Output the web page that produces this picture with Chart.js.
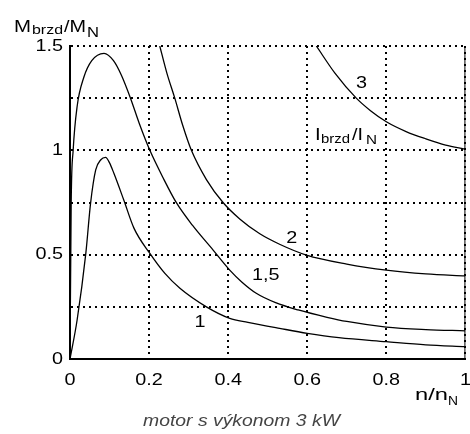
<!DOCTYPE html>
<html>
<head>
<meta charset="utf-8">
<script src="https://cdn.jsdelivr.net/npm/chart.js@4/dist/chart.umd.min.js"></script>
<style>
  html, body { margin: 0; padding: 0; background: #fff; }
  #wrap { width: 470px; height: 434px; position: relative; }
</style>
</head>
<body>
<div id="wrap"><canvas id="c" width="470" height="434"></canvas></div>
<script>
// Tick values
const xTickValues = [0, 0.2, 0.4, 0.6, 0.8, 1];
const yLabelValues = [0, 0.5, 1, 1.5];

// Curve I_brzd/I_N = 1
const c1X = [0, 0.018, 0.04, 0.052, 0.065, 0.078, 0.09, 0.1, 0.111, 0.136, 0.162, 0.202, 0.24, 0.278, 0.345, 0.404, 0.45, 0.53, 0.6, 0.68, 0.8, 0.9, 1];
const c1Y = [0, 0.187, 0.506, 0.746, 0.906, 0.955, 0.966, 0.94, 0.89, 0.762, 0.626, 0.506, 0.41, 0.339, 0.25, 0.195, 0.176, 0.147, 0.123, 0.102, 0.083, 0.068, 0.059];

// Curve I_brzd/I_N = 1,5
const c15X = [0, 0.003, 0.008, 0.018, 0.035, 0.055, 0.086, 0.11, 0.13, 0.153, 0.175, 0.202, 0.235, 0.269, 0.31, 0.362, 0.404, 0.435, 0.471, 0.52, 0.577, 0.65, 0.7, 0.8, 0.9, 1];
const c15Y = [0, 0.75, 1.0, 1.21, 1.35, 1.43, 1.465, 1.43, 1.36, 1.25, 1.13, 1.0, 0.87, 0.749, 0.64, 0.522, 0.426, 0.368, 0.315, 0.27, 0.235, 0.2, 0.18, 0.153, 0.141, 0.135];

// Curve I_brzd/I_N = 2
const c2X = [0.227, 0.245, 0.265, 0.285, 0.307, 0.345, 0.387, 0.43, 0.48, 0.53, 0.598, 0.7, 0.8, 0.9, 1];
const c2Y = [1.5, 1.37, 1.25, 1.12, 1.0, 0.86, 0.75, 0.67, 0.6, 0.55, 0.498, 0.455, 0.426, 0.408, 0.398];

// Curve I_brzd/I_N = 3
const c3X = [0.623, 0.67, 0.724, 0.76, 0.8, 0.85, 0.9, 0.95, 1];
const c3Y = [1.5, 1.37, 1.25, 1.19, 1.137, 1.09, 1.055, 1.025, 1.005];

// Curve labels (data coordinates of the label baseline centre)
const curveLabels = ['1', '1,5', '2', '3'];
const curveLabelX = [0.329, 0.495, 0.561, 0.737];
const curveLabelY = [0.153, 0.38, 0.555, 1.3];

const FONT = '"Liberation Sans", Arial, Helvetica, sans-serif';
const TEXT_STRETCH = 1.2;   // the reference lettering is horizontally wide

const canvas = document.getElementById('c');
const cctx = canvas.getContext('2d');
const origFillText = cctx.fillText;
cctx.fillText = function (t, x, y, mw) {
  if (this.__plain) return origFillText.call(this, t, x, y);
  this.save();
  this.translate(x, y);
  this.scale(TEXT_STRETCH, 1);
  origFillText.call(this, t, 0, 0);
  this.restore();
};

function pts(xs, ys) { return xs.map((x, i) => ({ x: x, y: ys[i] })); }
function ds(xs, ys) {
  return {
    data: pts(xs, ys), showLine: true, borderColor: '#000', borderWidth: 1.3,
    pointRadius: 0, cubicInterpolationMode: 'monotone', fill: false
  };
}

// draw text starting at x, stretched to width w
function fitText(ctx, t, x, y, size, w, style) {
  ctx.font = (style || '') + ' ' + size + 'px ' + FONT;
  const m = ctx.measureText(t).width;
  const s = w ? w / m : TEXT_STRETCH;
  ctx.save();
  ctx.translate(x, y);
  ctx.scale(s, 1);
  ctx.textAlign = 'left';
  ctx.__plain = true;
  ctx.fillText(t, 0, 0);
  ctx.__plain = false;
  ctx.restore();
}

const textPlugin = {
  id: 'texts',
  afterDraw(chart) {
    const ctx = chart.ctx;
    const xs = chart.scales.x, ys = chart.scales.y;
    const a = chart.chartArea;
    ctx.save();
    // solid right frame
    ctx.strokeStyle = '#000';
    ctx.lineWidth = 1;
    ctx.beginPath();
    ctx.moveTo(a.right - 0.5, a.top);
    ctx.lineTo(a.right - 0.5, a.bottom);
    ctx.stroke();

    ctx.fillStyle = '#000';
    ctx.textBaseline = 'alphabetic';
    ctx.textAlign = 'center';
    ctx.font = '16.5px ' + FONT;
    for (let i = 0; i < curveLabels.length; i++) {
      ctx.fillText(curveLabels[i], xs.getPixelForValue(curveLabelX[i]), ys.getPixelForValue(curveLabelY[i]));
    }
    // I_brzd / I_N
    fitText(ctx, 'I', 315, 140, 17, 0);
    fitText(ctx, 'brzd', 321, 143, 12, 29);
    fitText(ctx, '/I', 352, 140, 17, 11);
    fitText(ctx, 'N', 366, 144, 13, 11);
    // y title
    fitText(ctx, 'M', 14, 32, 17, 17);
    fitText(ctx, 'brzd', 32, 34, 12, 31);
    fitText(ctx, '/M', 64, 32, 17, 22);
    fitText(ctx, 'N', 87, 37, 14, 12);
    // x title
    fitText(ctx, 'n/n', 415, 400, 17, 33);
    fitText(ctx, 'N', 448, 405, 13, 10);
    // caption
    ctx.fillStyle = '#444';
    fitText(ctx, 'motor s výkonom 3 kW', 143, 426, 17, 197, 'italic');
    ctx.restore();
  }
};

new Chart(canvas, {
  type: 'scatter',
  data: { datasets: [ds(c1X, c1Y), ds(c15X, c15Y), ds(c2X, c2Y), ds(c3X, c3Y)] },
  options: {
    responsive: false,
    animation: false,
    devicePixelRatio: 1,
    layout: { padding: { top: 46, right: 4, left: 0, bottom: 0 } },
    plugins: { legend: { display: false }, tooltip: { enabled: false } },
    scales: {
      x: {
        type: 'linear', min: 0, max: 1,
        afterFit(s) { s.height = 75; },
        afterBuildTicks(s) { s.ticks = xTickValues.map(v => ({ value: v })); },
        ticks: { color: '#000', font: { family: FONT, size: 16.5 }, padding: 0, maxRotation: 0,
                 callback: v => String(v) },
        grid: { color: '#000', lineWidth: 2, drawTicks: true, tickLength: 12, tickColor: 'rgba(0,0,0,0)' },
        border: { display: true, color: '#000', width: 2, dash: [2, 4] }
      },
      y: {
        type: 'linear', min: 0, max: 1.5,
        afterFit(s) { s.width = 70; },
        ticks: { stepSize: 0.25, color: '#000', font: { family: FONT, size: 16.5 }, padding: 7,
                 callback: v => (yLabelValues.includes(v) ? String(v) : '') },
        grid: { color: '#000', lineWidth: 2, drawTicks: false },
        border: { display: true, color: '#000', width: 2, dash: [2, 4] }
      }
    }
  },
  plugins: [textPlugin]
});
</script>
</body>
</html>
